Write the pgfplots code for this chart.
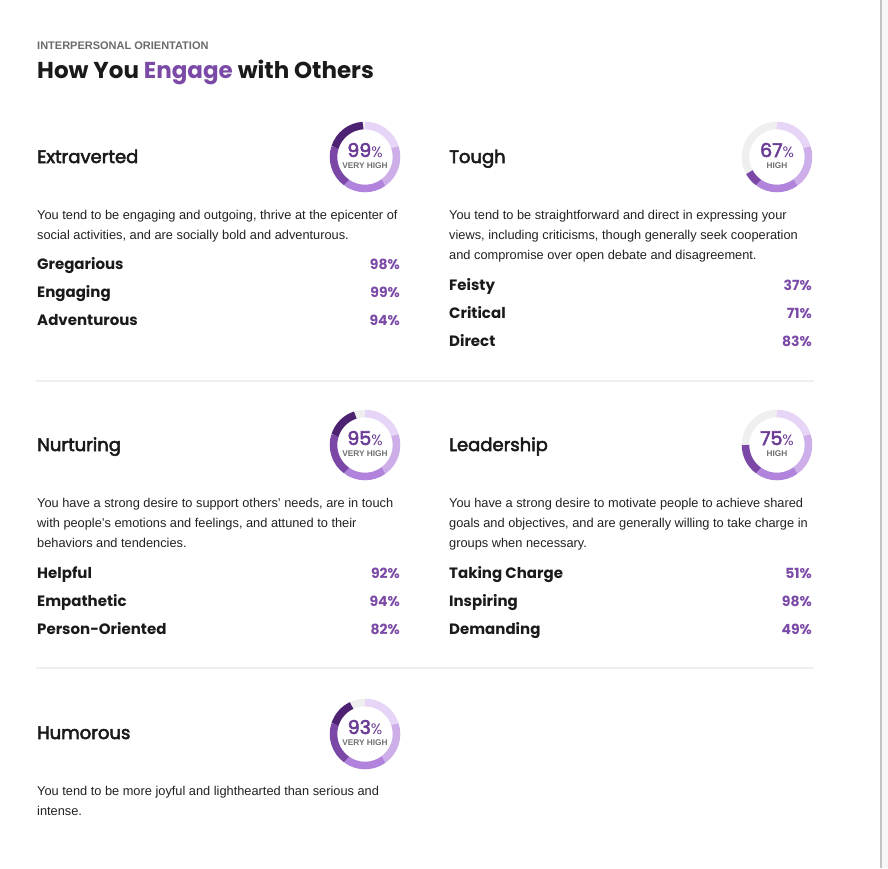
\documentclass[border=0pt]{standalone}
\usepackage{pgfplots}
\pgfplotsset{compat=1.18}
\usepackage{fontspec}
\setmainfont{Liberation Sans}
\newfontfamily\pop{Poppins}
\newfontfamily\popm{Poppins}[FakeBold=3]
\definecolor{segA}{HTML}{E6D5F7}
\definecolor{segB}{HTML}{CDAEE9}
\definecolor{segC}{HTML}{B183DC}
\definecolor{segD}{HTML}{7B48A8}
\definecolor{segE}{HTML}{4D2272}
\definecolor{ringgr}{HTML}{EFEFEF}
\definecolor{purp}{HTML}{7B4AA6}
\definecolor{numc}{HTML}{6B3D96}
\definecolor{ink}{HTML}{1A1A1A}
\definecolor{body}{HTML}{222222}
\definecolor{lvl}{HTML}{707070}
\definecolor{sep}{HTML}{EFEFEF}
\newcommand\fs[1]{\fontsize{#1}{#1}\selectfont}
\newcommand\donut[4]{% cx, cy, value, level
  \pgfmathsetmacro\va{3.6*#3}
  \draw[ringgr, line width=7.5pt] (axis cs:#1,#2) circle[radius=31.5pt];
  \foreach \k/\c in {0/segA,1/segB,2/segC,3/segD,4/segE}{
    \pgfmathsetmacro\sa{72*\k}
    \pgfmathsetmacro\ea{min(72*(\k+1),\va)}
    \ifdim\sa pt<\va pt
      \draw[\c, line width=7.5pt] (axis cs:#1,#2) ++({90-\sa}:31.5pt) arc[start angle={90-\sa}, end angle={90-\ea}, radius=31.5pt];
    \fi
  }
  \node[anchor=base, inner sep=0pt, text=numc] at (axis cs:#1,#2) {\popm\fs{19}#3\pop\fs{15}\%};
  \node[anchor=base, inner sep=0pt, text=lvl] at (axis cs:#1,#2+11.5) {\bfseries\fs{8.3}#4};
}
\newcommand\heading[3]{\node[anchor=base west, inner sep=0pt, text=ink] at (axis cs:#1,#2) {\popm\fs{18}#3};}
\newcommand\desc[3]{\node[anchor=base west, inner sep=0pt, text=body] at (axis cs:#1,#2) {\fs{12.8}#3};}
\newcommand\trait[4]{%
  \node[anchor=base west, inner sep=0pt, text=ink] at (axis cs:#1,#2) {\pop\bfseries\fs{15}#3};
  \node[anchor=base east, inner sep=0pt, text=purp] at (axis cs:#1+363,#2) {\pop\bfseries\fs{14}#4\%};}
\begin{document}
\begin{tikzpicture}
\begin{axis}[x=1pt, y=1pt, xmin=0, xmax=888, ymin=0, ymax=868, y dir=reverse,
  hide axis, clip=false, axis line style={draw=none}]
\addplot[draw=none] coordinates {(0,0) (888,868)};
\pgfplotsextra{
  \fill[white] (axis cs:0,0) rectangle (axis cs:888,868);
  \fill[black!3] (axis cs:882,0) rectangle (axis cs:888,868);
  \fill[black!23] (axis cs:880,0) rectangle (axis cs:882,868);
  \draw[sep, line width=2pt] (axis cs:36,381) -- (axis cs:814,381);
  \draw[sep, line width=2pt] (axis cs:36,668) -- (axis cs:814,668);
  \node[anchor=base west, inner sep=0pt, text=black!58] at (axis cs:37,49) {\bfseries\fs{11}INTERPERSONAL ORIENTATION};
  \node[anchor=base west, inner sep=0pt, text=ink] at (axis cs:37,78.5) {\pop\bfseries\fs{23}How You \textcolor{purp}{Engage} with Others};
  % Row 1 left
  \heading{37}{163}{Extraverted}
  \donut{365}{157}{99}{VERY HIGH}
  \desc{37}{219}{You tend to be engaging and outgoing, thrive at the epicenter of}
  \desc{37}{239}{social activities, and are socially bold and adventurous.}
  \trait{37}{269}{Gregarious}{98}
  \trait{37}{297}{Engaging}{99}
  \trait{37}{325}{Adventurous}{94}
  % Row 1 right
  \heading{449}{163}{Tough}
  \donut{777}{157}{67}{HIGH}
  \desc{449}{219}{You tend to be straightforward and direct in expressing your}
  \desc{449}{239}{views, including criticisms, though generally seek cooperation}
  \desc{449}{259}{and compromise over open debate and disagreement.}
  \trait{449}{290}{Feisty}{37}
  \trait{449}{318}{Critical}{71}
  \trait{449}{346}{Direct}{83}
  % Row 2 left
  \heading{37}{451}{Nurturing}
  \donut{365}{445}{95}{VERY HIGH}
  \desc{37}{507}{You have a strong desire to support others' needs, are in touch}
  \desc{37}{527}{with people's emotions and feelings, and attuned to their}
  \desc{37}{547}{behaviors and tendencies.}
  \trait{37}{578}{Helpful}{92}
  \trait{37}{606}{Empathetic}{94}
  \trait{37}{634}{Person-Oriented}{82}
  % Row 2 right
  \heading{449}{451}{Leadership}
  \donut{777}{445}{75}{HIGH}
  \desc{449}{507}{You have a strong desire to motivate people to achieve shared}
  \desc{449}{527}{goals and objectives, and are generally willing to take charge in}
  \desc{449}{547}{groups when necessary.}
  \trait{449}{578}{Taking Charge}{51}
  \trait{449}{606}{Inspiring}{98}
  \trait{449}{634}{Demanding}{49}
  % Row 3
  \heading{37}{739}{Humorous}
  \donut{365}{734}{93}{VERY HIGH}
  \desc{37}{795}{You tend to be more joyful and lighthearted than serious and}
  \desc{37}{815}{intense.}
}
\end{axis}
\end{tikzpicture}
\end{document}
